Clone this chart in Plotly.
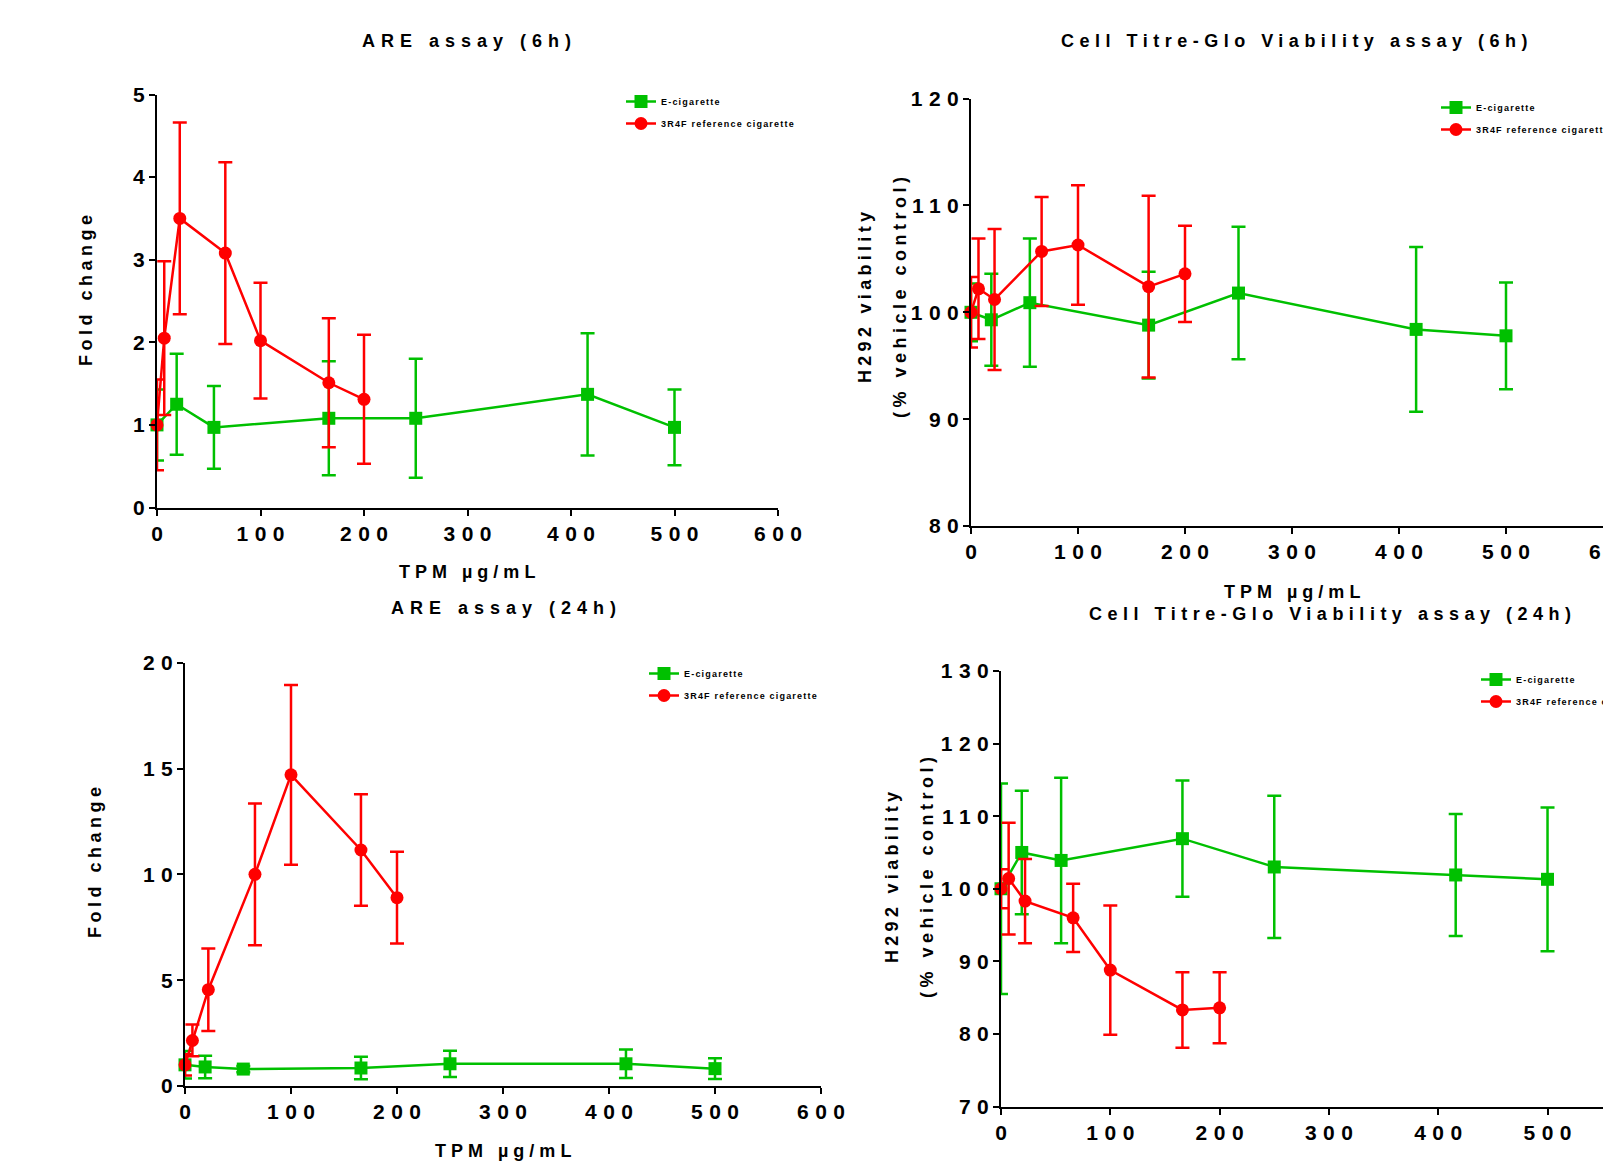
import plotly.graph_objects as go

# TPM concentrations (ug/mL)
ecig_x = [0, 19, 55, 166, 250, 416, 500]
ref_x = [0, 7, 22, 66, 100, 166, 200]

# ARE assay (6h), fold change
are6_ecig = [1.0, 1.25, 0.97, 1.08, 1.08, 1.37, 0.97]
are6_ecig_err = [0.43, 0.61, 0.50, 0.69, 0.72, 0.74, 0.46]
are6_ref = [1.0, 2.05, 3.5, 3.08, 2.02, 1.51, 1.31]
are6_ref_err = [0.55, 0.93, 1.16, 1.10, 0.70, 0.78, 0.78]

# Cell Titre-Glo viability (6h), % vehicle control
via6_ecig = [100.0, 99.3, 100.9, 98.8, 101.8, 98.4, 97.8]
via6_ecig_err = [2.7, 4.3, 6.0, 5.0, 6.2, 7.7, 5.0]
via6_ref = [100.0, 102.2, 101.2, 105.7, 106.3, 102.4, 103.6]
via6_ref_err = [3.3, 4.7, 6.6, 5.1, 5.6, 8.5, 4.5]

# ARE assay (24h), fold change
are24_ecig = [1.0, 0.90, 0.80, 0.85, 1.05, 1.05, 0.82]
are24_ecig_err = [0.65, 0.53, 0.15, 0.53, 0.62, 0.67, 0.49]
are24_ref = [1.0, 2.15, 4.55, 10.0, 14.7, 11.15, 8.9]
are24_ref_err = [0.5, 0.75, 1.95, 3.35, 4.25, 2.63, 2.17]

# Cell Titre-Glo viability (24h), % vehicle control
via24_ecig = [100.0, 105.0, 103.9, 106.9, 103.0, 101.9, 101.3]
via24_ecig_err = [14.5, 8.5, 11.4, 8.0, 9.8, 8.4, 9.9]
via24_ref = [100.0, 101.4, 98.3, 96.0, 88.8, 83.3, 83.6]
via24_ref_err = [2.7, 7.7, 5.8, 4.7, 8.9, 5.2, 4.9]

x_ticks = [0, 100, 200, 300, 400, 500, 600]

GREEN = "rgb(0,192,0)"
RED = "rgb(255,0,0)"
FONT = "Liberation Sans"
W, H = 1611, 1164
OFF = 8  # the page body adds an 8px margin


def px(x):
    return min((x - OFF) / W, 1.0)


def py(y):
    return 1 - (y - OFF) / H


def spaced(s, ls):
    # wide letter spacing like the original, none after the last glyph
    s = str(s)
    if len(s) < 2:
        return s
    return '<span style="letter-spacing:%spx">%s</span>%s' % (ls, s[:-1], s[-1])


# one entry per panel, pixel boxes
panels = [
    dict(ecig=are6_ecig, ecig_err=are6_ecig_err, ref=are6_ref, ref_err=are6_ref_err,
         box=(157, 778, 94.5, 507.5), xmax=600, yrange=(0, 5), yticks=[0, 1, 2, 3, 4, 5],
         legend=(621, 87)),
    dict(ecig=via6_ecig, ecig_err=via6_ecig_err, ref=via6_ref, ref_err=via6_ref_err,
         box=(971, 1613, 98.6, 526), xmax=600, yrange=(80, 120), yticks=[80, 90, 100, 110, 120],
         legend=(1436, 93)),
    dict(ecig=are24_ecig, ecig_err=are24_ecig_err, ref=are24_ref, ref_err=are24_ref_err,
         box=(185, 821, 662.7, 1086), xmax=600, yrange=(0, 20), yticks=[0, 5, 10, 15, 20],
         legend=(644, 659)),
    dict(ecig=via24_ecig, ecig_err=via24_ecig_err, ref=via24_ref, ref_err=via24_ref_err,
         box=(1001, 1619, 671, 1106.5), xmax=565.4, yrange=(70, 130),
         yticks=[70, 80, 90, 100, 110, 120, 130], legend=(1476, 665)),
]

fig = go.Figure()
layout = {}

for i, p in enumerate(panels):
    n = "" if i == 0 else str(i + 1)
    leg = "legend" + n
    fig.add_trace(go.Scatter(
        x=ecig_x, y=p["ecig"], name=spaced("E-cigarette", 1.2), mode="lines+markers",
        xaxis="x" + n, yaxis="y" + n, legend=leg, legendgroup="e" + n,
        line=dict(color=GREEN, width=2.5),
        marker=dict(symbol="square", size=13, color=GREEN),
        error_y=dict(type="data", array=p["ecig_err"], color=GREEN, thickness=2.5, width=7),
        cliponaxis=False))
    fig.add_trace(go.Scatter(
        x=ref_x, y=p["ref"], name=spaced("3R4F reference cigarette", 1.2),
        mode="lines+markers",
        xaxis="x" + n, yaxis="y" + n, legend=leg, legendgroup="r" + n,
        line=dict(color=RED, width=2.5),
        marker=dict(symbol="circle", size=13, color=RED),
        error_y=dict(type="data", array=p["ref_err"], color=RED, thickness=2.5, width=7),
        cliponaxis=False))

    x0, x1, top, bot = p["box"]
    axis_style = dict(showline=True, linecolor="black", linewidth=2, ticks="outside",
                      ticklen=6, tickwidth=2, tickcolor="black", showgrid=False,
                      zeroline=False, tickfont=dict(family=FONT, size=21, color="black",
                                                    weight="bold"))
    layout["xaxis" + n] = dict(axis_style, domain=[px(x0), px(x1)], range=[0, p["xmax"]],
                               tickvals=x_ticks, ticktext=[spaced(v, 6.5) for v in x_ticks],
                               ticklabeloverflow="allow", anchor="y" + n)
    layout["yaxis" + n] = dict(axis_style, domain=[py(bot), py(top)], range=list(p["yrange"]),
                               tickvals=p["yticks"],
                               ticktext=[spaced(v, 6.5) for v in p["yticks"]],
                               anchor="x" + n)
    lx, ly = p["legend"]
    layout[leg] = dict(x=px(lx), y=py(ly), xanchor="left", yanchor="top",
                       bgcolor="rgba(0,0,0,0)", traceorder="grouped", tracegroupgap=3,
                       font=dict(family=FONT, size=9, color="black", weight="bold"))

fig.update_layout(**layout)

title_font = dict(family=FONT, size=18, color="black", weight="bold")
texts = [
    ("ARE assay (6h)", 467, 41, 0, 6),
    ("Cell Titre-Glo Viability assay (6h)", 1294, 41, 0, 5.5),
    ("ARE assay (24h)", 503, 608, 0, 6),
    ("Cell Titre-Glo Viability assay (24h)", 1330, 614, 0, 5.5),
    ("TPM µg/mL", 467, 572, 0, 5),
    ("TPM µg/mL", 1292, 592, 0, 5),
    ("TPM µg/mL", 503, 1151, 0, 5),
    ("Fold change", 86, 291, -90, 4.5),
    ("Fold change", 95, 863, -90, 4.5),
    ("H292 viability", 865, 298, -90, 4.3),
    ("(% vehicle control)", 900, 298, -90, 4.5),
    ("H292 viability", 892, 878, -90, 4.3),
    ("(% vehicle control)", 927, 878, -90, 4.5),
]
for t, x, y, ang, ls in texts:
    fig.add_annotation(text=spaced(t, ls), x=px(x), y=py(y), xref="paper", yref="paper",
                       xanchor="center", yanchor="middle", showarrow=False,
                       textangle=ang, font=title_font)

fig.update_layout(width=W, height=H, autosize=False,
                  margin=dict(l=0, r=0, t=0, b=0, autoexpand=False),
                  paper_bgcolor="white", plot_bgcolor="white", showlegend=True)

fig.write_html("out.html")
